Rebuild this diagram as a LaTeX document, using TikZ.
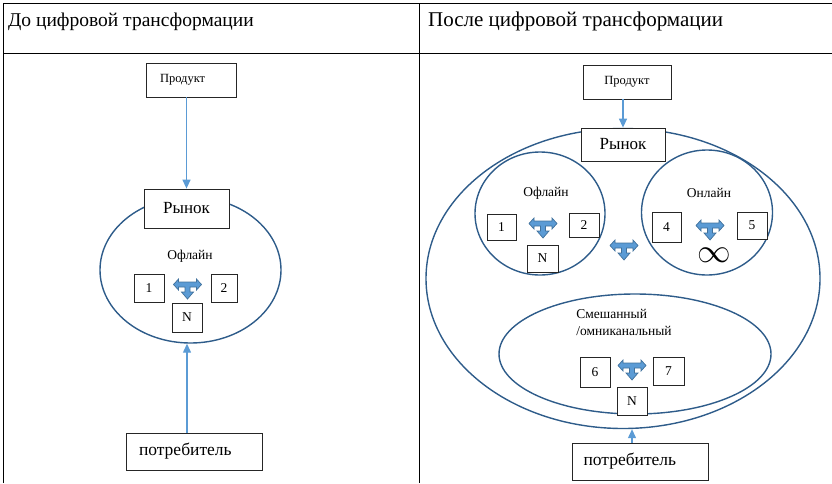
\documentclass[tikz,border=0pt]{standalone}
\usepackage{amsmath}
\usepackage{fontspec}
\setmainfont{Liberation Serif}
\usepackage{tikz}
\usetikzlibrary{arrows.meta, shapes.geometric}
\definecolor{ringblue}{RGB}{46,92,138}
\definecolor{flowblue}{RGB}{91,155,213}
\definecolor{swapedge}{RGB}{65,113,156}

\begin{document}
\begin{tikzpicture}[x=1pt, y=-1pt,
	cell/.style={draw=black!85, line width=0.8pt, fill=white, inner sep=0pt, font=\fontsize{13.5}{15}\selectfont},
	ring/.style={draw=ringblue, line width=1.4pt, ellipse, inner sep=0pt},
	flow/.style={draw=flowblue, line width=1.3pt, -{Triangle[length=9pt, width=8pt]}},
	title/.style={anchor=base west, inner sep=0pt, font=\fontsize{19.5}{22}\selectfont},
	tag/.style={inner sep=0pt, font=\fontsize{13.5}{15}\selectfont},
	swap/.pic={
		\filldraw[fill=flowblue, draw=swapedge, line width=0.7pt]
			(-14,-3.5) -- (-9,-9) -- (-9,-6) -- (9,-6) -- (9,-9) -- (14,-3.5) -- (9,2) -- (9,-1)
			-- (2.5,-1) -- (2.5,4) -- (6,4) -- (0,11) -- (-6,4) -- (-2.5,4) -- (-2.5,-1)
			-- (-9,-1) -- (-9,2) -- cycle;
	}]
	\useasboundingbox (0,0) rectangle (832,483);
	% table
	\draw[line width=0.9pt] (3,483) -- (3,3) -- (832,3);
	\draw[line width=0.9pt] (3,53) -- (832,53);
	\draw[line width=0.9pt] (419,3) -- (419,483);
	\node[title] (headL) at (8,26) {До цифровой трансформации};
	\node[title, font=\fontsize{21}{22}\selectfont] (headR) at (428,26) {После цифровой трансформации};
	%
	% before
	\node[ring, minimum width=181, minimum height=146] (mktL) at (190.5,270) {};
	\node[cell, minimum width=90, minimum height=34, text width=62pt, inner xsep=14pt, align=left,
		font=\fontsize{12.5}{14}\selectfont] (prodL) at (191,80) {Продукт};
	\node[cell, minimum width=85, minimum height=39, font=\fontsize{17}{19}\selectfont] (rynL) at (186.5,208.5) {Рынок};
	\node[tag] (offL) at (190,256) {Офлайн};
	\node[cell, minimum width=30, minimum height=28] (oneL) at (149,288) {1};
	\node[cell, minimum width=26, minimum height=28] (twoL) at (224,288) {2};
	\node[cell, minimum width=30, minimum height=29] (nL) at (187,317.5) {N};
	\pic at (187.5,288) {swap};
	\node[cell, minimum width=136, minimum height=37, text width=110pt, inner xsep=13pt, align=left,
		font=\fontsize{17.5}{19}\selectfont] (consL) at (194,451.5) {потребитель};
	\draw[flow] (prodL.south -| rynL.north) -- (rynL.north);
	\draw[flow] (consL.north -| nL.south) -- (mktL.south -| nL.south);
	%
	% after
	\node[ring, minimum width=394, minimum height=300] (mktR) at (623,278.5) {};
	\node[ring, minimum width=130, minimum height=123] (offR) at (540,213.5) {};
	\node[ring, minimum width=131, minimum height=125] (onR) at (707,212.5) {};
	\node[ring, minimum width=272, minimum height=120] (mixR) at (635,354) {};
	\node[cell, minimum width=88, minimum height=34, font=\fontsize{12.5}{14}\selectfont] (prodR) at (627,82) {Продукт};
	\node[cell, minimum width=84, minimum height=33, font=\fontsize{17}{19}\selectfont] (rynR) at (623,144.5) {Рынок};
	\node[tag] (offRt) at (546,193) {Офлайн};
	\node[tag] (onRt) at (709,193) {Онлайн};
	\node[tag, anchor=north, align=left, font=\fontsize{13.5}{17}\selectfont] (mixRt) at (624,309) {Смешанный\\/омниканальный};
	\node[cell, minimum width=29, minimum height=26] (oneR) at (501.5,227) {1};
	\node[cell, minimum width=30, minimum height=24] (twoR) at (584,225) {2};
	\node[cell, minimum width=31, minimum height=27] (nR1) at (542.5,258.5) {N};
	\node[cell, minimum width=29, minimum height=30] (fourR) at (666.5,227) {4};
	\node[cell, minimum width=30, minimum height=27] (fiveR) at (752,225.5) {5};
	\node[tag, font=\fontsize{24}{24}\selectfont] (inf) at (714,255) {\scalebox{1.35}{$\infty$}};
	\node[cell, minimum width=30, minimum height=30] (sixR) at (595,372) {6};
	\node[cell, minimum width=31, minimum height=28] (sevenR) at (668.5,371) {7};
	\node[cell, minimum width=30, minimum height=28] (nR2) at (632,401) {N};
	\pic at (543,227) {swap};
	\pic at (710,229) {swap};
	\pic at (624,249) {swap};
	\pic at (632,369) {swap};
	\node[cell, minimum width=136, minimum height=37, text width=114pt, inner xsep=11pt, align=left,
		font=\fontsize{17.5}{19}\selectfont] (consR) at (640.5,461.5) {потребитель};
	\draw[flow] (prodR.south -| rynR.north) -- (rynR.north);
	\draw[flow] (consR.north -| nR2.south) -- (mktR.south -| nR2.south);
\end{tikzpicture}
\end{document}
